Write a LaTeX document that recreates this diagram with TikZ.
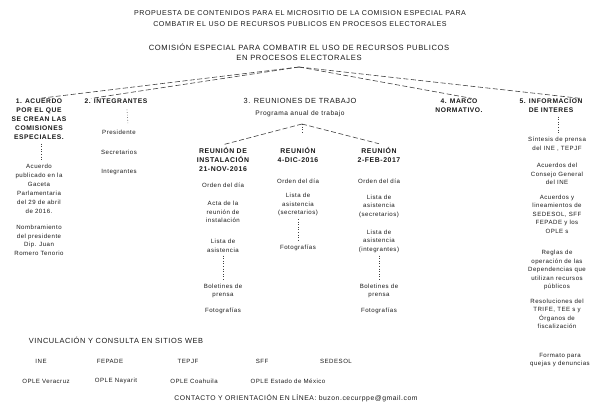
\documentclass[tikz,border=0pt]{standalone}
\usepackage{fontspec}
\setmainfont{Liberation Sans}[LetterSpace=8]
\begin{document}
\begin{tikzpicture}[x=1pt,y=-1pt,
  every node/.style={inner sep=0pt, align=center, text=black!90},
  ttl/.style={font=\fontsize{7.1}{11}\selectfont},
  com/.style={font=\fontsize{7.6}{10}\selectfont},
  hd/.style={font=\fontsize{6.7}{9}\selectfont\bfseries},
  sub/.style={font=\fontsize{6.9}{9}\selectfont\bfseries},
  big/.style={font=\fontsize{7.4}{9}\selectfont},
  cnt/.style={font=\fontsize{6.8}{9}\selectfont},
  prg/.style={font=\fontsize{6.6}{9}\selectfont},
  t/.style={font=\fontsize{6.1}{8.5}\selectfont},
  tt/.style={font=\fontsize{6.1}{9}\selectfont},
  dline/.style={draw=black!75, dash pattern=on 5pt off 2.5pt, line width=0.6pt},
  dtline/.style={draw=black!75, dotted, line width=0.6pt}]
\useasboundingbox (0,0) rectangle (596,410);
\fill[white] (0,0) rectangle (596,410);

% titles
\node[ttl] (title) at (300,18.5) {PROPUESTA DE CONTENIDOS PARA EL MICROSITIO DE LA COMISION ESPECIAL PARA\\COMBATIR EL USO DE RECURSOS PUBLICOS EN PROCESOS ELECTORALES};
\node[com] (com) at (299,52) {COMISIÓN ESPECIAL PARA COMBATIR EL USO DE RECURSOS PUBLICOS\\EN PROCESOS ELECTORALES};
\coordinate (apex) at (299,67);

% column headers
\node[hd] (c1) at (39,119) {1. ACUERDO\\POR EL QUE\\SE CREAN LAS\\COMISIONES\\ESPECIALES.};
\node[hd] (c2) at (116,101) {2. INTEGRANTES};
\node[big] (c3) at (300,101) {3. REUNIONES DE TRABAJO};
\node[hd] (c4) at (459,105.5) {4. MARCO\\NORMATIVO.};
\node[hd] (c5) at (551,105.5) {5. INFORMACION\\DE INTERES};

\draw[dline] (apex) -- (c1.north);
\draw[dline] (apex) -- ([xshift=-25pt]c2.north);
\draw[dline] (apex) -- ([xshift=13pt]c4.north);
\draw[dline] (apex) -- ([xshift=30pt]c5.north);

% column 1
\node[tt] (a1) at (39,189) {Acuerdo\\publicado en la\\Gaceta\\Parlamentaria\\del 29 de abril\\de 2016.};
\node[t] (a2) at (39,240.5) {Nombramiento\\del presidente\\Dip. Juan\\Romero Tenorio};
\draw[dtline] ([xshift=2pt,yshift=-4pt]c1.south) -- ([xshift=2pt,yshift=4pt]a1.north);

% column 2
\node[t] (p1) at (119,132) {Presidente};
\node[t] (p2) at (119,152) {Secretarios};
\node[t] (p3) at (119,172) {Integrantes};
\draw[dtline] ([xshift=11pt,yshift=-6pt]c2.south) -- ([xshift=9pt,yshift=5pt]p1.north);

% column 3
\node[prg] (prog) at (300,114) {Programa anual de trabajo};
\coordinate (apex2) at (302,124);
\coordinate (apex2b) at (302,134);
\draw[dtline] (apex2) -- (apex2b);
\node[sub] (rA) at (223,159) {REUNIÓN DE\\INSTALACIÓN\\21-NOV-2016};
\node[sub] (rB) at (298,154.5) {REUNIÓN\\4-DIC-2016};
\node[sub] (rC) at (379,154.5) {REUNIÓN\\2-FEB-2017};
\draw[dline] (apex2) -- ([yshift=2pt]rA.north);
\draw[dline] (apex2) -- ([yshift=3pt]rC.north);

\node[t] (A1) at (223,185) {Orden del día};
\node[t] (A2) at (223,212) {Acta de la\\reunión de\\instalación};
\node[t] (A3) at (223,246) {Lista de\\asistencia};
\node[t] (A4) at (223,291) {Boletines de\\prensa};
\node[t] (A5) at (223,311) {Fotografías};
\draw[dtline] ([yshift=-3pt]A3.south) -- ([yshift=3pt]A4.north);

\node[t] (B1) at (298,181) {Orden del día};
\node[t] (B2) at (298,204.5) {Lista de\\asistencia\\(secretarios)};
\node[t] (B3) at (298,248) {Fotografías};
\draw[dtline] ([yshift=-3pt]B2.south) -- ([yshift=3pt]B3.north);

\node[t] (C1) at (379,181) {Orden del día};
\node[t] (C2) at (379,206) {Lista de\\asistencia\\(secretarios)};
\node[t] (C3) at (379,241) {Lista de\\asistencia\\(integrantes)};
\node[t] (C4) at (379,291) {Boletines de\\prensa};
\node[t] (C5) at (379,311) {Fotografías};
\draw[dtline] ([yshift=-3pt]C3.south) -- ([yshift=3pt]C4.north);

% column 5
\node[t] (f1) at (557,144) {Síntesis de prensa\\del INE , TEPJF};
\node[t] (f2) at (557,174) {Acuerdos del\\Consejo General\\del INE};
\node[t] (f3) at (557,214) {Acuerdos y\\lineamientos de\\SEDESOL, SFF\\FEPADE y los\\OPLE s};
\node[t] (f4) at (557,270) {Reglas de\\operación de las\\Dependencias que\\utilizan recursos\\públicos};
\node[t] (f5) at (557,314) {Resoluciones del\\TRIFE, TEE s y\\Órganos de\\fiscalización};
\node[t] (f6) at (560,360) {Formato para\\quejas y denuncias};
\draw[dtline] ([xshift=7pt,yshift=-4pt]c5.south) -- ([xshift=1pt,yshift=4pt]f1.north);

% bottom
\node[big] (vin) at (116,340) {VINCULACIÓN Y CONSULTA EN SITIOS WEB};
\node[t] (w1) at (41,361) {INE};
\node[t] (w2) at (110,361) {FEPADE};
\node[t] (w3) at (188,361) {TEPJF};
\node[t] (w4) at (262,361) {SFF};
\node[t] (w5) at (336,361) {SEDESOL};
\node[t] (o1) at (46,381) {OPLE Veracruz};
\node[t] (o2) at (116,381) {OPLE Nayarit};
\node[t] (o3) at (194,381) {OPLE Coahuila};
\node[t] (o4) at (288,381) {OPLE Estado de México};
\node[cnt] (contact) at (296,398) {CONTACTO Y ORIENTACIÓN EN LÍNEA: buzon.cecurppe@gmail.com};
\end{tikzpicture}
\end{document}
